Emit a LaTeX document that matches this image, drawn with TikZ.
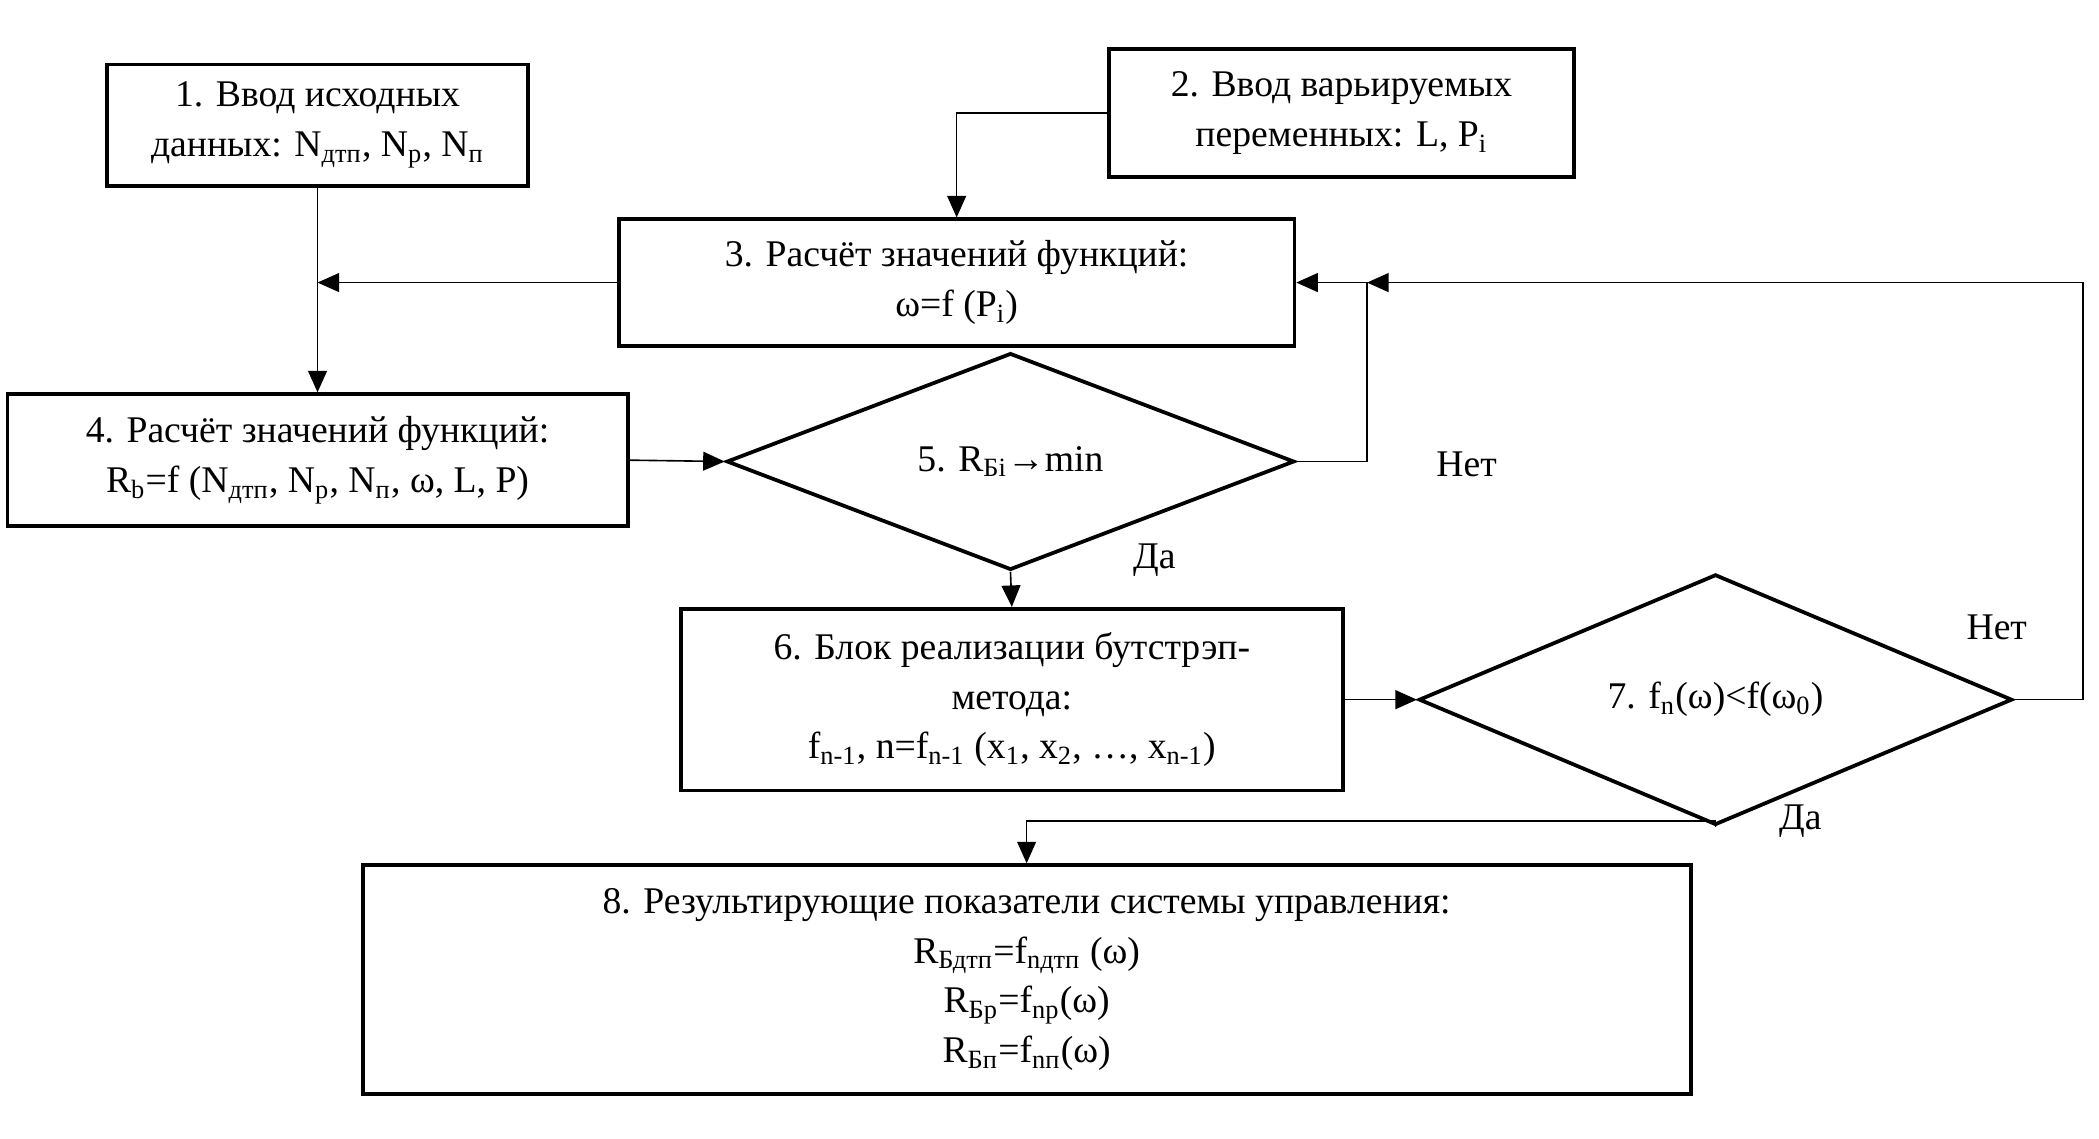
\documentclass[tikz,border=0pt]{standalone}
\usepackage{fontspec}
\setmainfont{Liberation Serif}
\usetikzlibrary{shapes.geometric,arrows.meta}
\begin{document}
\begin{tikzpicture}[x=0.5pt,y=-0.5pt,
  box/.style={draw,line width=1.4pt,align=center,inner sep=0pt,font=\fontsize{14}{18.5}\selectfont},
  dia/.style={draw,line width=1.4pt,diamond,inner sep=0pt,font=\fontsize{14}{18.5}\selectfont},
  lab/.style={font=\fontsize{14}{18.5}\selectfont},
  con/.style={line width=0.6pt},
  arr/.style={con,-{Triangle[length=8pt,width=7pt]}}]
\useasboundingbox (0,0) rectangle (1560,846);
\node[box,minimum width=156.5pt,minimum height=45pt] (b1) at (236,93) {1. Ввод исходных\\данных: N\textsubscript{дтп}, N\textsubscript{р}, N\textsubscript{п}};
\node[box,minimum width=173pt,minimum height=47.5pt] (b2) at (997,84) {2. Ввод варьируемых\\переменных: L, P\textsubscript{i}};
\node[box,minimum width=251pt,minimum height=47pt] (b3) at (711,210) {3. Расчёт значений функций:\\ω=f (P\textsubscript{i})};
\node[box,minimum width=230.5pt,minimum height=49pt] (b4) at (236,342) {4. Расчёт значений функций:\\R\textsubscript{b}=f (N\textsubscript{дтп}, N\textsubscript{р}, N\textsubscript{п}, ω, L, P)};
\node[dia,minimum width=211pt,minimum height=57.5pt] (d5) at (751,343) {5. R\textsubscript{Бi}→min};
\node[box,minimum width=246pt,minimum height=67.5pt] (b6) at (752,520) {6. Блок реализации бутстрэп-\\метода:\\f\textsubscript{n-1}, n=f\textsubscript{n-1} (x\textsubscript{1}, x\textsubscript{2}, …, x\textsubscript{n-1})};
\node[dia,minimum width=220.5pt,minimum height=55.5pt] (d7) at (1275,520) {7. f\textsubscript{n}(ω)<f(ω\textsubscript{0})};
\node[box,minimum width=493.5pt,minimum height=85pt] (b8) at (763,728) {8. Результирующие показатели системы управления:\\R\textsubscript{Бдтп}=f\textsubscript{nдтп} (ω)\\R\textsubscript{Бр}=f\textsubscript{nр}(ω)\\R\textsubscript{Бп}=f\textsubscript{nп}(ω)};
\coordinate (j1) at (236,210);
\coordinate (j2) at (1016,210);
\node[lab] (n1) at (1090,345) {Нет};
\node[lab] (y1) at (858,416) {Да};
\node[lab] (n2) at (1484,466) {Нет};
\node[lab] (y2) at (1338,610) {Да};
\draw[arr] (b1.south) -- (b4.north);
\draw[arr] (b3.west) -- (j1);
\draw[arr] (b2.west) -| (b3.north);
\draw[arr] (b4.east) -- (d5.west);
\draw[arr] (d5.east) -- (1016,343) -- (j2) -- (b3.east);
\draw[arr] (d7.east) -- (1548,520) -- (1548,210) -- (j2);
\draw[arr] (d5.south) -- (b6.north);
\draw[arr] (b6.east) -- (d7.west);
\draw[arr] (d7.south) -- (1275,610) -| (b8.north);
\end{tikzpicture}
\end{document}
